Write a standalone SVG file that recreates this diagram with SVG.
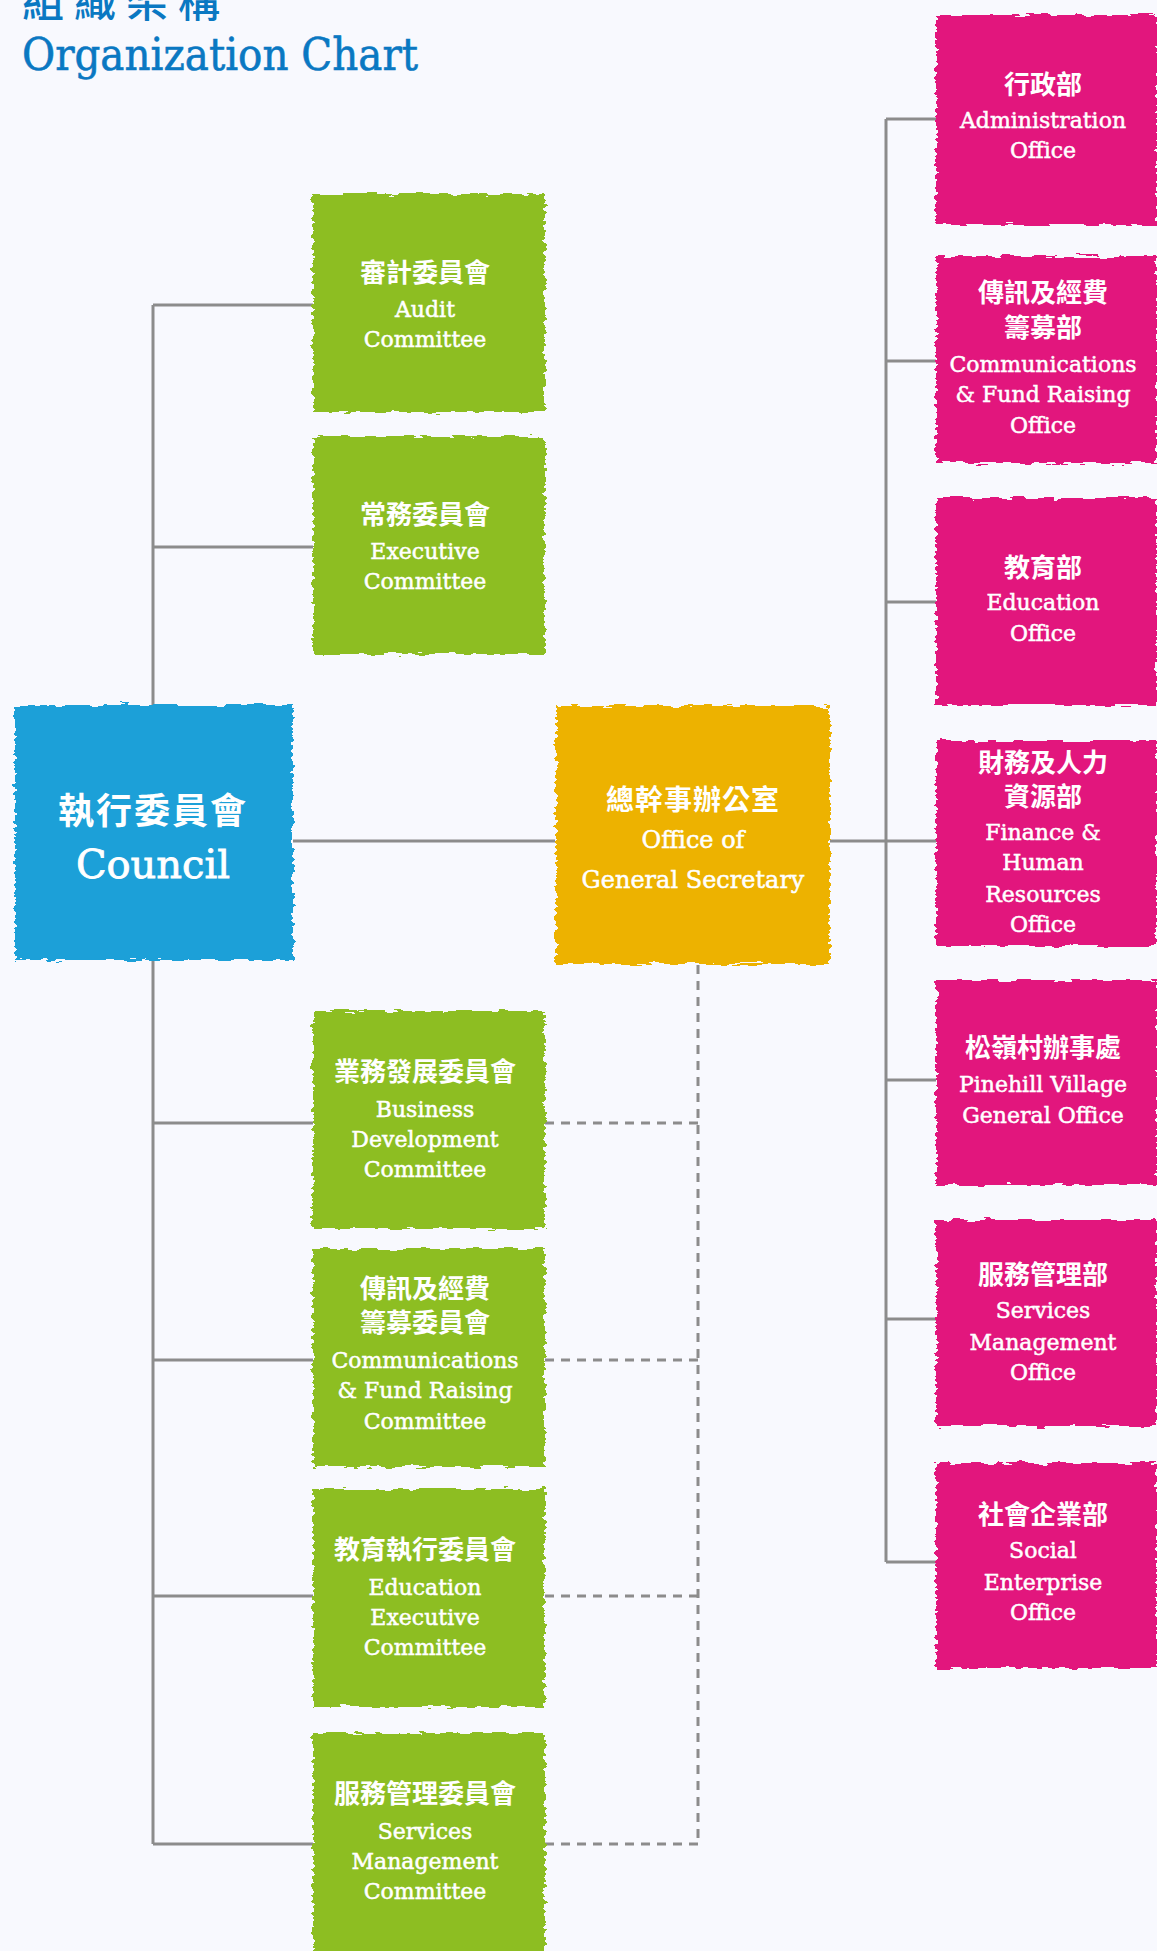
<svg xmlns="http://www.w3.org/2000/svg" width="1157" height="1951" viewBox="0 0 1157 1951">
<defs>
<filter id="rough" x="-5%" y="-5%" width="110%" height="110%">
<feTurbulence type="fractalNoise" baseFrequency="0.06 0.25" numOctaves="2" seed="4" result="n"/>
<feDisplacementMap in="SourceGraphic" in2="n" scale="9" xChannelSelector="R" yChannelSelector="G"/>
</filter>
<style>
.cn{font-family:"Noto Sans CJK TC","Noto Sans CJK SC",sans-serif;font-weight:700;font-size:26px;fill:#fff;text-anchor:middle}
.en{font-family:"DejaVu Serif","Liberation Serif",serif;font-size:22px;fill:#fff;stroke:#fff;stroke-width:0.5px;text-anchor:middle}
.line{stroke:#8c8c8c;stroke-width:3;fill:none}
.dash{stroke:#8c8c8c;stroke-width:3;fill:none;stroke-dasharray:9 7}
.green{fill:#8dbe22;filter:url(#rough)}
.mag{fill:#e2137d;filter:url(#rough)}
</style>
</defs>
<rect width="1157" height="1951" fill="#f8f9fe"/>
<g id="title">
<text x="22" y="17" font-family="Noto Sans CJK TC, Noto Sans CJK SC, sans-serif" font-weight="500" font-size="42" letter-spacing="10" fill="#0a78c2">組織架構</text>
<text x="22" y="70" font-family="DejaVu Serif, serif" font-size="44" fill="#0a78c2" stroke="#0a78c2" stroke-width="0.6" textLength="396" lengthAdjust="spacingAndGlyphs">Organization Chart</text>
</g>
<g id="connectors">
<path class="line" d="M153 305V1844M153 305H313M153 547H313M293 841H555M153 1123H313M153 1360H313M153 1596H313M153 1844H313"/>
<path class="line" d="M830 841H886M886 119V1562M886 119H936M886 361H936M886 602H936M886 841H936M886 1080H936M886 1319H936M886 1562H936"/>
<path class="dash" d="M698 965V1844M545 1123H698M545 1360H698M545 1596H698M545 1844H698"/>
</g>
<g id="council">
<rect x="15" y="705" width="278" height="255" fill="#1aa0d8" filter="url(#rough)"/>
<text class="cn" x="153" y="824" style="font-size:36px;letter-spacing:2px">執行委員會</text>
<text class="en" x="153" y="878" style="font-size:40px;stroke-width:0.8px">Council</text>
</g>
<g id="gen-sec">
<rect x="556" y="706" width="274" height="258" fill="#edb200" filter="url(#rough)"/>
<text class="cn" x="693" y="810" style="font-size:28px;letter-spacing:1px">總幹事辦公室</text>
<text class="en" x="693" y="848" style="font-size:24px">Office of</text>
<text class="en" x="693" y="888" style="font-size:24px">General Secretary</text>
</g>
<g id="audit">
<rect class="green" x="313" y="194" width="232" height="218"/>
<text class="cn" x="425" y="282">審計委員會</text>
<text class="en" x="425" y="317">Audit</text>
<text class="en" x="425" y="347">Committee</text>
</g>
<g id="executive">
<rect class="green" x="313" y="436" width="232" height="218"/>
<text class="cn" x="425" y="524">常務委員會</text>
<text class="en" x="425" y="559">Executive</text>
<text class="en" x="425" y="589">Committee</text>
</g>
<g id="business-dev">
<rect class="green" x="313" y="1011" width="232" height="218"/>
<text class="cn" x="425" y="1081">業務發展委員會</text>
<text class="en" x="425" y="1117">Business</text>
<text class="en" x="425" y="1147">Development</text>
<text class="en" x="425" y="1177">Committee</text>
</g>
<g id="comm-fr-committee">
<rect class="green" x="313" y="1249" width="232" height="218"/>
<text class="cn" x="425" y="1298">傳訊及經費</text>
<text class="cn" x="425" y="1332">籌募委員會</text>
<text class="en" x="425" y="1368">Communications</text>
<text class="en" x="425" y="1398">&amp; Fund Raising</text>
<text class="en" x="425" y="1429">Committee</text>
</g>
<g id="edu-exec">
<rect class="green" x="313" y="1489" width="232" height="218"/>
<text class="cn" x="425" y="1559">教育執行委員會</text>
<text class="en" x="425" y="1595">Education</text>
<text class="en" x="425" y="1625">Executive</text>
<text class="en" x="425" y="1655">Committee</text>
</g>
<g id="services-committee">
<rect class="green" x="313" y="1733" width="232" height="222"/>
<text class="cn" x="425" y="1803">服務管理委員會</text>
<text class="en" x="425" y="1839">Services</text>
<text class="en" x="425" y="1869">Management</text>
<text class="en" x="425" y="1899">Committee</text>
</g>
<g id="admin">
<rect class="mag" x="936" y="15" width="221" height="210"/>
<text class="cn" x="1043" y="94">行政部</text>
<text class="en" x="1043" y="128">Administration</text>
<text class="en" x="1043" y="158">Office</text>
</g>
<g id="comm-fr-office">
<rect class="mag" x="936" y="256" width="221" height="207"/>
<text class="cn" x="1043" y="302">傳訊及經費</text>
<text class="cn" x="1043" y="337">籌募部</text>
<text class="en" x="1043" y="372">Communications</text>
<text class="en" x="1043" y="402">&amp; Fund Raising</text>
<text class="en" x="1043" y="433">Office</text>
</g>
<g id="education">
<rect class="mag" x="936" y="498" width="221" height="207"/>
<text class="cn" x="1043" y="577">教育部</text>
<text class="en" x="1043" y="610">Education</text>
<text class="en" x="1043" y="641">Office</text>
</g>
<g id="finance-hr">
<rect class="mag" x="936" y="741" width="221" height="205"/>
<text class="cn" x="1043" y="772">財務及人力</text>
<text class="cn" x="1043" y="806">資源部</text>
<text class="en" x="1043" y="840">Finance &amp;</text>
<text class="en" x="1043" y="870">Human</text>
<text class="en" x="1043" y="902">Resources</text>
<text class="en" x="1043" y="932">Office</text>
</g>
<g id="pinehill">
<rect class="mag" x="936" y="980" width="221" height="205"/>
<text class="cn" x="1043" y="1057">松嶺村辦事處</text>
<text class="en" x="1043" y="1092">Pinehill Village</text>
<text class="en" x="1043" y="1123">General Office</text>
</g>
<g id="services-office">
<rect class="mag" x="936" y="1220" width="221" height="206"/>
<text class="cn" x="1043" y="1284">服務管理部</text>
<text class="en" x="1043" y="1318">Services</text>
<text class="en" x="1043" y="1350">Management</text>
<text class="en" x="1043" y="1380">Office</text>
</g>
<g id="social-enterprise">
<rect class="mag" x="936" y="1463" width="221" height="205"/>
<text class="cn" x="1043" y="1524">社會企業部</text>
<text class="en" x="1043" y="1558">Social</text>
<text class="en" x="1043" y="1590">Enterprise</text>
<text class="en" x="1043" y="1620">Office</text>
</g>
</svg>
